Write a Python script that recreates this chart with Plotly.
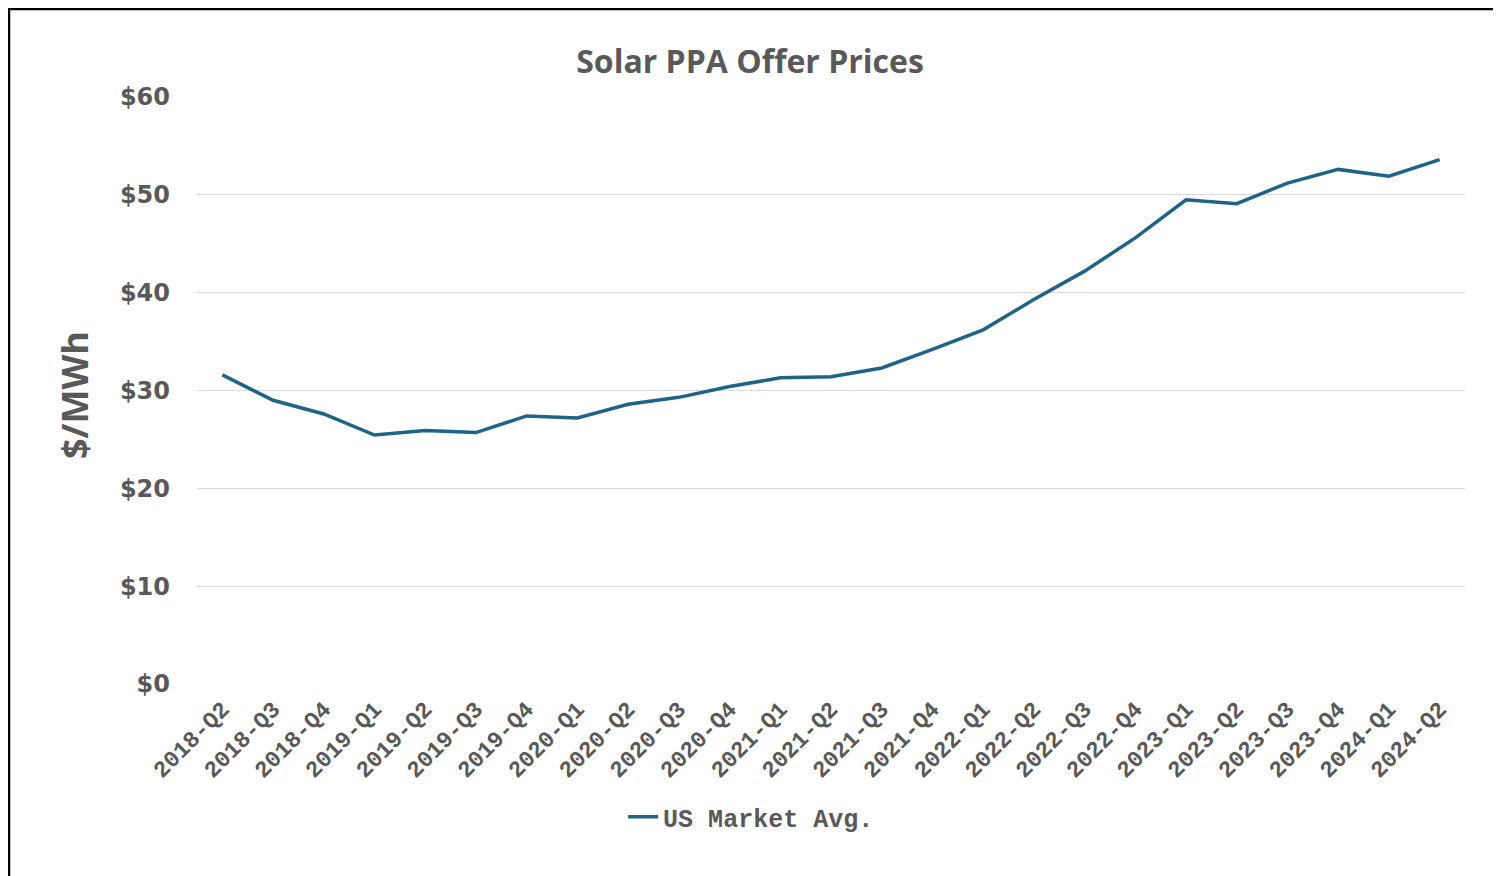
import plotly.graph_objects as go

quarters = [
    "2018-Q2", "2018-Q3", "2018-Q4",
    "2019-Q1", "2019-Q2", "2019-Q3", "2019-Q4",
    "2020-Q1", "2020-Q2", "2020-Q3", "2020-Q4",
    "2021-Q1", "2021-Q2", "2021-Q3", "2021-Q4",
    "2022-Q1", "2022-Q2", "2022-Q3", "2022-Q4",
    "2023-Q1", "2023-Q2", "2023-Q3", "2023-Q4",
    "2024-Q1", "2024-Q2",
]
us_market_avg = [
    31.6, 29.0, 27.6,
    25.45, 25.9, 25.7, 27.4,
    27.2, 28.6, 29.3, 30.4,
    31.3, 31.4, 32.3, 34.2,
    36.2, 39.3, 42.2, 45.6,
    49.5, 49.1, 51.2, 52.6,
    51.9, 53.6,
]
y_ticks = [0, 10, 20, 30, 40, 50, 60]
y_tick_labels = [f"${v}" for v in y_ticks]

# the page body has an 8px margin, so the figure is drawn 8px in from the window edge
OFF = 8
W, H = 1501 - OFF, 876 - OFF
L, R, T, B = 197 - OFF, 36, 97 - OFF, 192
pw, ph = W - L - R, H - T - B

GREY = "#595959"
LINE = "#1f6387"

fig = go.Figure()
fig.add_trace(go.Scatter(
    x=quarters, y=us_market_avg, mode="lines", name="US Market Avg.",
    line=dict(color=LINE, width=3.5),
))


def px_x(p):
    # page pixel -> paper coordinate
    return (p - OFF - L) / pw


def px_y(p):
    return (H - B - (p - OFF)) / ph


fig.update_layout(
    width=W, height=H,
    margin=dict(l=L, r=R, t=T, b=B),
    paper_bgcolor="white", plot_bgcolor="white",
    title=dict(text="<b>Solar PPA Offer Prices</b>", x=(750 - OFF) / W, xanchor="center",
               y=1 - (62 - OFF) / H, yanchor="middle",
               font=dict(family="Open Sans", size=32, color=GREY)),
    showlegend=True,
    legend=dict(orientation="h", x=0.437, xanchor="center", y=px_y(817), yanchor="middle",
                font=dict(family="Liberation Mono", size=25, color=GREY, weight="bold")),
    xaxis=dict(
        type="category", range=[-0.5, len(quarters) - 0.5],
        tickangle=-45, showgrid=False, showline=False, zeroline=False, ticks="",
        ticklabelstandoff=6,
        tickfont=dict(family="Liberation Mono", size=23, color=GREY, weight="bold"),
    ),
    yaxis=dict(
        range=[0, 60], tickvals=y_ticks, ticktext=y_tick_labels,
        showgrid=True, gridcolor="#d9d9d9", gridwidth=1,
        zeroline=False, showline=False, ticks="",
        ticklabelstandoff=26,
        tickfont=dict(family="DejaVu Sans", size=24, color=GREY, weight="bold"),
    ),
    annotations=[dict(
        text="<b>$/MWh</b>", textangle=-90, xref="paper", yref="paper",
        x=px_x(75), y=px_y(395), xanchor="center", yanchor="middle", showarrow=False,
        font=dict(family="Open Sans", size=36, color=GREY),
    )],
    shapes=[
        dict(type="line", xref="paper", yref="paper", x0=px_x(9), x1=px_x(9),
             y0=px_y(H + 20), y1=px_y(OFF), line=dict(color="black", width=2.5)),
        dict(type="line", xref="paper", yref="paper", x0=px_x(OFF), x1=px_x(W + 20),
             y0=px_y(OFF + 1), y1=px_y(OFF + 1), line=dict(color="black", width=2.5)),
    ],
)

fig.write_html("out.html")
